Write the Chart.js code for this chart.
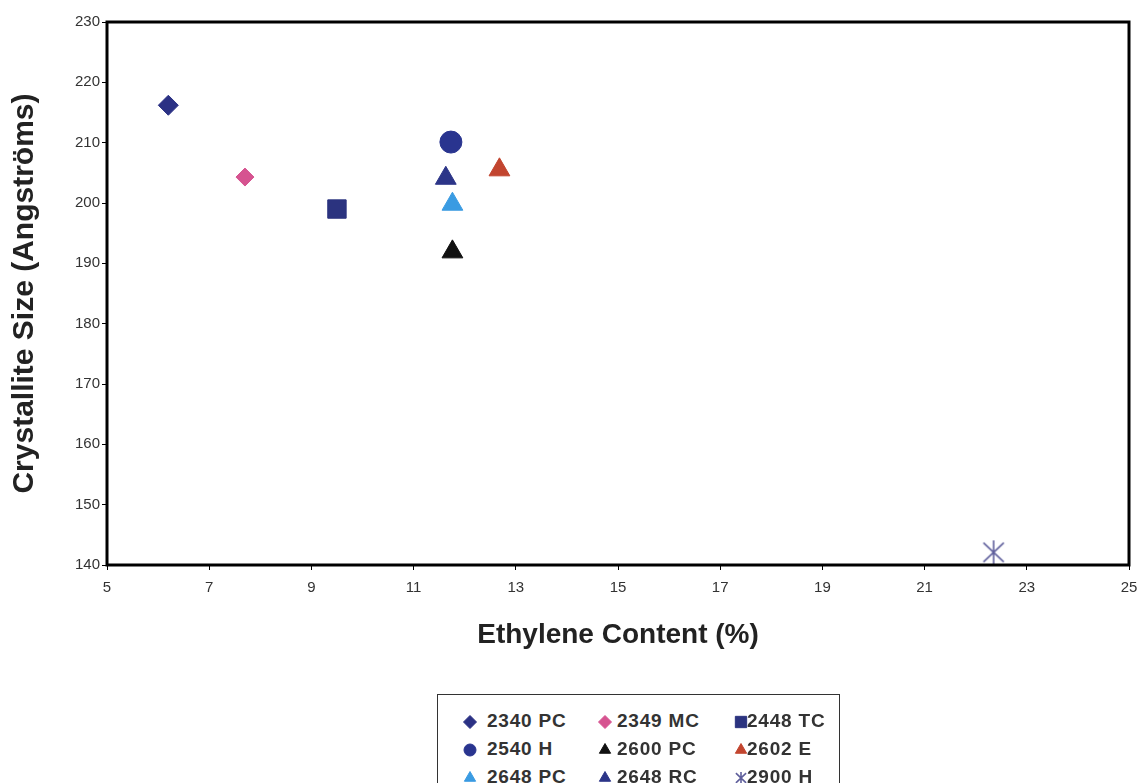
<!DOCTYPE html>
<html>
<head>
<meta charset="utf-8">
<script src="https://cdn.jsdelivr.net/npm/chart.js@4.4.0/dist/chart.umd.min.js"></script>
<style>
    html, body { margin: 0; padding: 0; background: #fff; }
    #wrap { position: relative; width: 1143px; height: 783px; }
    #legend {
        position: absolute; left: 437px; top: 694px; width: 403px; height: 100px;
        border: 1.5px solid #333; box-sizing: border-box; background: #fff;
        font-family: "Liberation Sans", Arial, sans-serif; font-weight: bold; font-size: 19px;
        letter-spacing: 0.8px; color: #333;
    }
    #legend canvas, #legend span { position: absolute; white-space: nowrap; }
</style>
</head>
<body>
<div id="wrap">
    <canvas id="scatterChart" width="1143" height="783"></canvas>
    <div id="legend"></div>
</div>
<script>
// data
const sampleNames = ['2340 PC', '2349 MC', '2448 TC', '2540 H', '2600 PC', '2602 E', '2648 PC', '2648 RC', '2900 H'];
const ethyleneContent = [6.2, 7.7, 9.5, 11.73, 11.76, 12.68, 11.76, 11.63, 22.35];
const crystalliteSize = [216.2, 204.3, 199.0, 210.1, 191.9, 205.5, 199.8, 204.1, 142.1];
const xTicks = [5, 7, 9, 11, 13, 15, 17, 19, 21, 23, 25];
const yTicks = [140, 150, 160, 170, 180, 190, 200, 210, 220, 230];

// marker styles per series
const markers = [
    { style: 'rectRot', color: '#2b3184', radius: 10 },
    { style: 'rectRot', color: '#d65390', radius: 9 },
    { style: 'rect', color: '#2b337f', radius: 13 },
    { style: 'circle', color: '#29348f', radius: 11 },
    { style: 'triangle', color: '#111111', radius: 12 },
    { style: 'triangle', color: '#c2452f', radius: 12 },
    { style: 'triangle', color: '#3a9be2', radius: 12 },
    { style: 'triangle', color: '#2c3588', radius: 12 },
    { style: 'asterisk', color: '#5f5f9c', radius: 12 }
];

function asteriskImage(color, r) {
    const c = document.createElement('canvas');
    c.width = c.height = r * 2 + 2;
    const g = c.getContext('2d');
    g.strokeStyle = color;
    g.lineWidth = 1.6;
    const m = r + 1;
    g.beginPath();
    g.moveTo(m, m - r); g.lineTo(m, m + r);
    g.moveTo(m - r * 0.85, m - r * 0.8); g.lineTo(m + r * 0.85, m + r * 0.8);
    g.moveTo(m + r * 0.85, m - r * 0.8); g.lineTo(m - r * 0.85, m + r * 0.8);
    g.stroke();
    return c;
}

const datasets = sampleNames.map((name, i) => {
    const mk = markers[i];
    return {
        label: name,
        data: [{ x: ethyleneContent[i], y: crystalliteSize[i] }],
        pointStyle: mk.style === 'asterisk' ? asteriskImage(mk.color, mk.radius) : mk.style,
        pointRadius: mk.radius,
        backgroundColor: mk.color,
        borderColor: mk.color,
        borderWidth: 1
    };
});

// thick black frame round the plot area
const frameBorder = {
    id: 'frameBorder',
    afterDatasetsDraw(chart) {
        const a = chart.chartArea;
        const ctx = chart.ctx;
        ctx.save();
        ctx.strokeStyle = '#000';
        ctx.lineWidth = 3;
        ctx.strokeRect(a.left, a.top, a.right - a.left, a.bottom - a.top);
        ctx.restore();
    }
};

const tickFont = { family: '"Liberation Sans", Arial, sans-serif', size: 15 };
const xTitleFont = { family: '"Liberation Sans", Arial, sans-serif', size: 28, weight: 'bold' };
const yTitleFont = { family: '"Liberation Sans", Arial, sans-serif', size: 30, weight: 'bold' };

const ctx = document.getElementById('scatterChart').getContext('2d');
const chart = new Chart(ctx, {
    type: 'scatter',
    data: { datasets: datasets },
    options: {
        responsive: false,
        animation: false,
        layout: { padding: { top: 22, right: 8, bottom: 118, left: 0 } },
        plugins: {
            legend: { display: false },
            tooltip: { enabled: false }
        },
        scales: {
            x: {
                min: 5, max: 25,
                afterBuildTicks: (s) => { s.ticks = xTicks.map(v => ({ value: v })); },
                afterFit: (s) => { s.height = 100; s.paddingLeft = 0; s.paddingRight = 0; },
                grid: { drawOnChartArea: false, drawTicks: true, tickLength: 5, color: '#000' },
                border: { display: false },
                ticks: { font: tickFont, color: '#333', padding: 9, maxRotation: 0 },
                title: { display: true, text: 'Ethylene Content (%)', font: xTitleFont, color: '#222', padding: { top: 0, bottom: 13 } }
            },
            y: {
                min: 140, max: 230,
                afterBuildTicks: (s) => { s.ticks = yTicks.map(v => ({ value: v })); },
                afterFit: (s) => { s.width = 107; },
                grid: { drawOnChartArea: false, drawTicks: true, tickLength: 5, color: '#000' },
                border: { display: false },
                ticks: { font: tickFont, color: '#333', padding: 2 },
                title: { display: true, text: 'Crystallite Size (Angströms)', font: yTitleFont, color: '#222', padding: { top: 7, bottom: 0 } }
            }
        }
    },
    plugins: [frameBorder]
});

// legend box, three columns (positions relative to the box)
const legendBox = document.getElementById('legend');
const glyphX = [32, 167, 303];
const textX = [49, 179, 309];
const rowY = [27, 55, 83];
chart.data.datasets.forEach((ds, i) => {
    const col = i % 3, row = Math.floor(i / 3);
    const mk = markers[i];
    const sw = document.createElement('canvas');
    sw.width = 18; sw.height = 18;
    sw.style.left = (glyphX[col] - 9) + 'px';
    sw.style.top = (rowY[row] - 9) + 'px';
    const g = sw.getContext('2d');
    g.fillStyle = mk.color;
    g.strokeStyle = mk.color;
    g.lineWidth = 1;
    if (mk.style === 'asterisk') {
        g.drawImage(asteriskImage(mk.color, 6), 2, 2);
    } else {
        const r = mk.style === 'rect' ? 8 : (mk.style === 'circle' ? 6 : 6.5);
        Chart.helpers.drawPoint(g, { pointStyle: mk.style, radius: r, borderWidth: 1 }, 9, 9);
    }
    legendBox.appendChild(sw);
    const txt = document.createElement('span');
    txt.textContent = ds.label;
    txt.style.left = textX[col] + 'px';
    txt.style.top = (rowY[row] - 12) + 'px';
    legendBox.appendChild(txt);
});
</script>
</body>
</html>
